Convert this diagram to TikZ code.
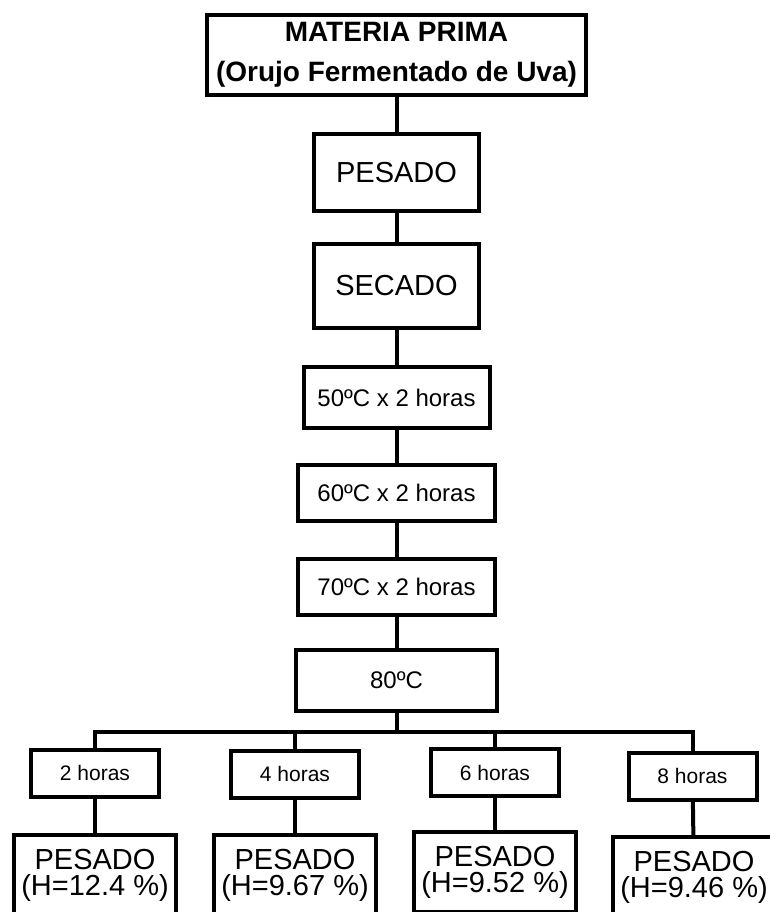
\documentclass[tikz,border=0pt]{standalone}
\usepackage{fontspec}
\setmainfont{Liberation Sans}
\usepackage{tikz}
\usetikzlibrary{positioning}

\begin{document}
\begin{tikzpicture}[
  x=0.5pt, y=-0.5pt,
  box/.style={draw, line width=2pt, align=center, inner sep=2pt},
  link/.style={line width=2pt}
]
\path[use as bounding box, clip] (0,0) rectangle (770,912);
% main chain
\node[box, minimum width=189.5pt, minimum height=40pt, font=\fontsize{14}{20}\selectfont\bfseries] (materia) at (396.5,55) {MATERIA PRIMA\\(Orujo Fermentado de Uva)};
\node[box, minimum width=82.5pt, minimum height=38.5pt, font=\fontsize{14.5}{16}\selectfont, below=17.5pt of materia] (pesado) {PESADO};
\node[box, minimum width=82.5pt, minimum height=42pt, font=\fontsize{14.5}{16}\selectfont, below=14.5pt of pesado] (secado) {SECADO};
\node[box, minimum width=93pt, minimum height=30.5pt, font=\fontsize{12}{14}\selectfont, below=17.5pt of secado] (t50) {50ºC x 2 horas};
\node[box, minimum width=98.5pt, minimum height=28pt, font=\fontsize{12}{14}\selectfont, below=16.5pt of t50] (t60) {60ºC x 2 horas};
\node[box, minimum width=98.5pt, minimum height=28pt, font=\fontsize{12}{14}\selectfont, below=17pt of t60] (t70) {70ºC x 2 horas};
\node[box, minimum width=100.5pt, minimum height=30.5pt, font=\fontsize{12}{14}\selectfont, below=15.5pt of t70] (t80) {80ºC};
% branches
\tikzset{hbox/.style={box, minimum width=64pt, minimum height=23.5pt, font=\fontsize{10.5}{12}\selectfont},
  pbox/.style={box, minimum width=81pt, minimum height=40pt, font=\fontsize{14.5}{13}\selectfont}}
\node[hbox] (h2) at (95,773) {2 horas};
\node[hbox] (h4) at (295,774) {4 horas};
\node[hbox] (h6) at (495,772.5) {6 horas};
\node[hbox] (h8) at (692.5,776) {8 horas};
\node[pbox] (p2) at (95,875) {PESADO\\(H=12.4 \%)};
\node[pbox] (p4) at (295,875) {PESADO\\(H=9.67 \%)};
\node[pbox] (p6) at (495,872) {PESADO\\(H=9.52 \%)};
\node[pbox] (p8) at (694,877) {PESADO\\(H=9.46 \%)};
\coordinate (bus) at (0,732);
\draw[link] (materia) -- (pesado);
\draw[link] (pesado) -- (secado);
\draw[link] (secado) -- (t50);
\draw[link] (t50) -- (t60);
\draw[link] (t60) -- (t70);
\draw[link] (t70) -- (t80);
\draw[link] (t80) -- (t80 |- bus);
\draw[link] (h2.north) -- (h2 |- bus) -- (h8 |- bus) -- (h8.north);
\draw[link] (h4.north) -- (h4 |- bus);
\draw[link] (h6.north) -- (h6 |- bus);
\foreach \h in {2,4,6,8}
  \draw[link] (h\h) -- (p\h);
\end{tikzpicture}
\end{document}
